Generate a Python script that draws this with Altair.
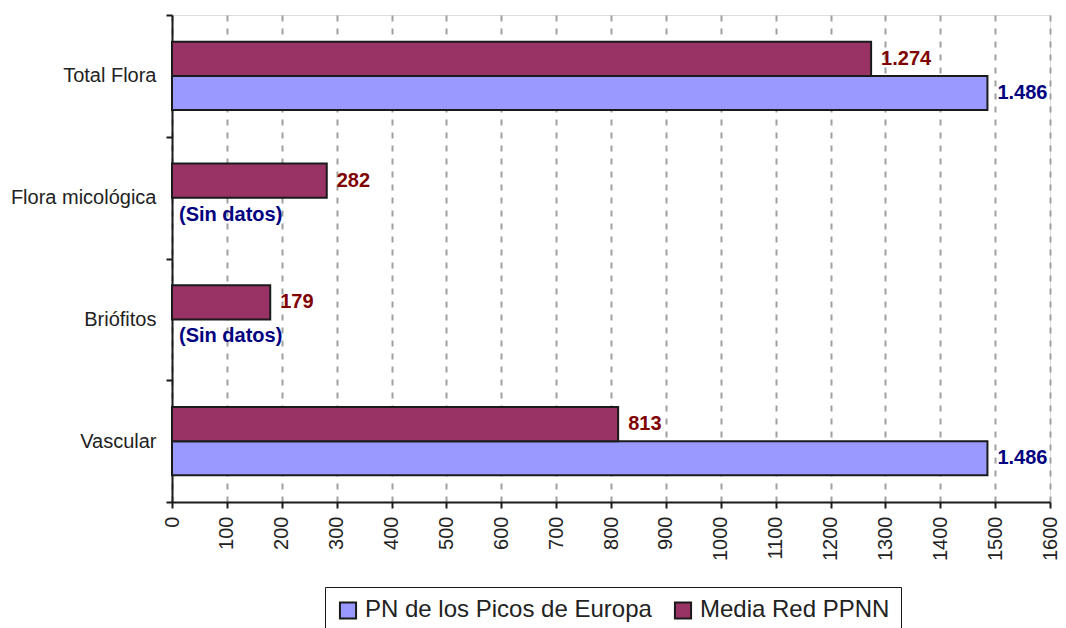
import altair as alt
import pandas as pd

categories = ["Total Flora", "Flora micológica", "Briófitos", "Vascular"]
series = ["PN de los Picos de Europa", "Media Red PPNN"]
pn_values = [1486, None, None, 1486]
media_values = [1274, 282, 179, 813]
pn_labels = ["1.486", "(Sin datos)", "(Sin datos)", "1.486"]
media_labels = ["1.274", "282", "179", "813"]
x_ticks = list(range(0, 1700, 100))

rows = []
for c, v, l in zip(categories, pn_values, pn_labels):
    rows.append({"cat": c, "serie": series[0], "value": v, "label": l})
for c, v, l in zip(categories, media_values, media_labels):
    rows.append({"cat": c, "serie": series[1], "value": v, "label": l})
df = pd.DataFrame(rows)

FONT = "Liberation Sans"

y_enc = alt.Y(
    "cat:N",
    sort=categories,
    title=None,
    scale=alt.Scale(paddingInner=0, paddingOuter=0),
    axis=alt.Axis(
        tickBand="extent",
        labelFontSize=20,
        labelFont=FONT,
        labelColor="#222222",
        labelPadding=10,
        tickSize=6,
        tickWidth=2,
        tickColor="#1a1a1a",
        domainColor="#1a1a1a",
        domainWidth=2,
        grid=False,
    ),
)
yoff_enc = alt.YOffset(
    "serie:N",
    scale=alt.Scale(domain=[series[1], series[0]], paddingOuter=0.79, paddingInner=0),
)
x_enc = alt.X(
    "value:Q",
    title=None,
    scale=alt.Scale(domain=[0, 1600], nice=False),
    axis=alt.Axis(
        values=x_ticks,
        format="d",
        labelAngle=270,
        labelFontSize=20,
        labelFont=FONT,
        labelColor="#222222",
        labelPadding=8,
        tickSize=6,
        tickWidth=2,
        tickColor="#1a1a1a",
        domainColor="#1a1a1a",
        domainWidth=2,
        grid=True,
        gridColor="#a0a0a0",
        gridWidth=2,
        gridDash=[6, 7],
    ),
)

base = alt.Chart(df)

bars = base.mark_bar(stroke="#1a1a1a", strokeWidth=2).encode(
    y=y_enc,
    yOffset=yoff_enc,
    x=x_enc,
    color=alt.Color(
        "serie:N",
        scale=alt.Scale(domain=series, range=["#9999FF", "#993366"]),
        legend=alt.Legend(
            title=None,
            orient="none",
            legendX=153,
            legendY=572,
            direction="horizontal",
            symbolType="square",
            symbolSize=260,
            symbolStrokeColor="#1a1a1a",
            symbolStrokeWidth=2,
            labelFontSize=24,
            labelFont=FONT,
            labelColor="#222222",
            labelOffset=5,
            labelLimit=0,
            columnPadding=18,
            padding=11,
            strokeColor="#1a1a1a",
            fillColor="white",
        ),
    ),
).transform_filter("isValid(datum.value)")

text_color = alt.condition(
    "datum.serie == 'Media Red PPNN'", alt.value("#800000"), alt.value("#000080")
)

value_labels = base.mark_text(
    align="left", baseline="middle", dx=10, fontSize=20, fontWeight="bold", font=FONT
).encode(
    y=y_enc,
    yOffset=yoff_enc,
    x=x_enc,
    text="label:N",
    color=text_color,
).transform_filter("isValid(datum.value)")

nodata_labels = base.mark_text(
    align="left", baseline="middle", dx=7, fontSize=20, fontWeight="bold", font=FONT
).encode(
    y=y_enc,
    yOffset=yoff_enc,
    x=alt.X("zero:Q", scale=alt.Scale(domain=[0, 1600], nice=False)),
    text="label:N",
    color=text_color,
).transform_filter("!isValid(datum.value)").transform_calculate(zero="0")

chart = (
    alt.layer(bars, value_labels, nodata_labels)
    .properties(
        width=878,
        height=487,
        autosize=alt.AutoSizeParams(type="none"),
        padding={"left": 164, "top": 7, "right": 8, "bottom": 126},
    )
    .configure_view(fill="#FFFFCC", stroke="#a0a0a0", strokeWidth=2)
    .configure(background="white")
)

chart.save("out.html", embed_options={"renderer": "svg", "actions": False})
